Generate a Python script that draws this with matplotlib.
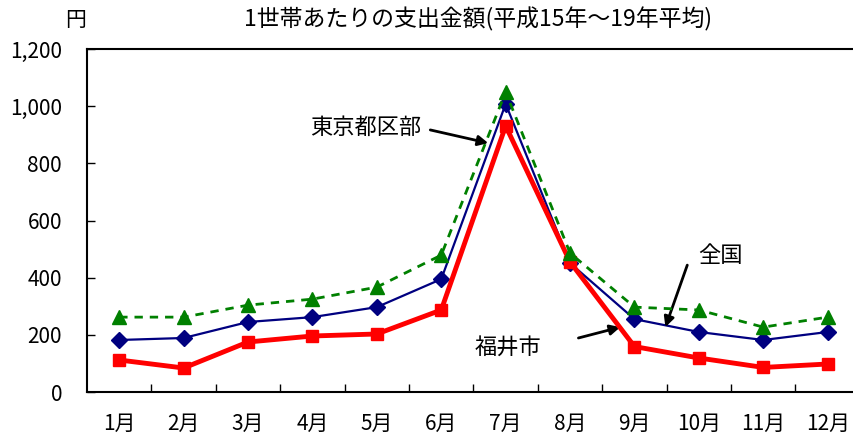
import matplotlib.pyplot as plt
from matplotlib.ticker import FuncFormatter

plt.rcParams['font.family'] = ['Noto Sans CJK JP', 'DejaVu Sans']
narrow = ['Liberation Sans Narrow', 'Noto Sans CJK JP', 'DejaVu Sans']

months = ['1月', '2月', '3月', '4月', '5月', '6月', '7月', '8月', '9月', '10月', '11月', '12月']
fukui = [112, 84, 175, 196, 203, 287, 931, 455, 159, 119, 86, 98]
zenkoku = [182, 189, 245, 262, 297, 395, 1008, 451, 255, 210, 182, 210]
tokyo = [262, 262, 304, 325, 367, 479, 1050, 486, 297, 287, 227, 262]

fig = plt.figure(figsize=(8.54, 4.38), dpi=100)
ax = fig.add_axes([0.1019, 0.105, 0.905, 0.783])

x = list(range(len(months)))
ax.plot(x, zenkoku, color='#000080', lw=1.6, marker='D', ms=8, zorder=3)
ax.plot(x, fukui, color='#ff0000', lw=3.5, marker='s', ms=9, zorder=4)
ax.plot(x, tokyo, color='#008000', lw=2, ls=(0, (3, 2.5)), marker='^', ms=10, zorder=5)

ax.set_xlim(-0.5, 11.5)
ax.set_ylim(0, 1200)
ax.set_yticks(range(0, 1201, 200))
ax.yaxis.set_major_formatter(FuncFormatter(lambda v, p: f'{int(v):,}'))
ax.set_xticks([i + 0.5 for i in range(11)])
ax.set_xticklabels([])
ax.set_xticks(x, minor=True)
ax.set_xticklabels(months, minor=True)
ax.tick_params(axis='x', which='major', direction='in', length=6, width=1)
ax.tick_params(axis='x', which='minor', length=0, pad=15, labelsize=15)
ax.tick_params(axis='y', direction='in', length=6, width=1, pad=18, labelsize=15)
for lab in ax.get_xticklabels(minor=True) + ax.get_yticklabels():
    lab.set_family(narrow)
for s in ax.spines.values():
    s.set_linewidth(1.5)

fig.text(0.088, 0.955, '円', fontsize=15, ha='center', va='center')
fig.text(0.56, 0.955, '1世帯あたりの支出金額(平成15年～19年平均)', fontsize=16.5,
         ha='center', va='center', family=narrow)

arrow = dict(arrowstyle='-|>', color='black', lw=2, shrinkA=0, shrinkB=0,
             mutation_scale=15)
ax.text(3.82, 927, '東京都区部', fontsize=16, ha='center', va='center')
ax.annotate('', xy=(5.73, 871), xytext=(4.83, 917), arrowprops=arrow)
ax.text(9.33, 479, '全国', fontsize=16, ha='center', va='center')
ax.annotate('', xy=(8.48, 227), xytext=(8.82, 444), arrowprops=arrow)
ax.text(6.04, 157, '福井市', fontsize=16, ha='center', va='center')
ax.annotate('', xy=(7.78, 227), xytext=(7.13, 189), arrowprops=arrow)

fig.savefig('out.png', dpi=100)
